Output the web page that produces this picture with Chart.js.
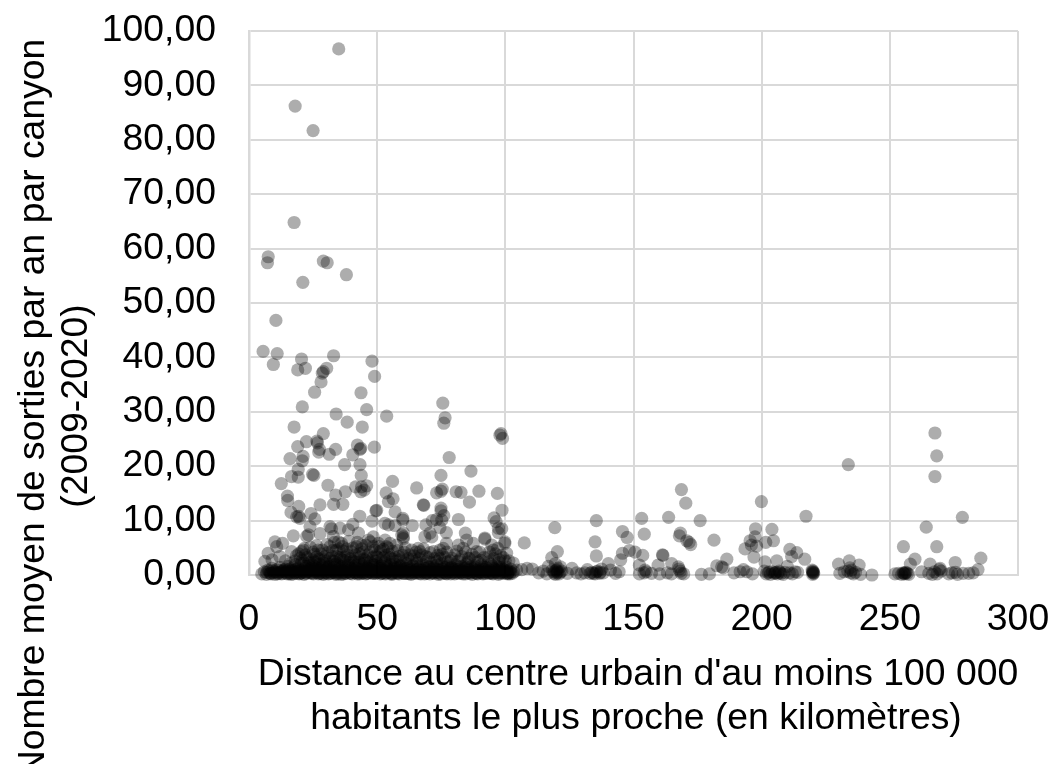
<!DOCTYPE html>
<html><head><meta charset="utf-8">
<style>html,body{margin:0;padding:0;background:#fff;overflow:hidden}#w{position:relative;width:1051px;height:764px}</style>
<script src="https://cdn.jsdelivr.net/npm/chart.js@4"></script>
</head><body><div id="w"><canvas id="c" width="1051" height="764"></canvas></div>
<script>
const xTitle = ["Distance au centre urbain d'au moins 100 000", "habitants le plus proche (en kilomètres)"];
const yTitle = ["Nombre moyen de sorties par an par canyon", "(2009-2020)"];
const xTicks = [0, 50, 100, 150, 200, 250, 300];
const yTicks = [0, 10, 20, 30, 40, 50, 60, 70, 80, 90, 100];

// [distance km, mean outings per year]
const highOutings = [[35,96.7],[18,86.2],[25,81.7],[17.6,64.8],[7.5,58.5],[7.2,57.4],[29,57.7],[30.5,57.4],[38,55.2],[21,53.8],[10.5,46.8],[5.5,41.1],[11,40.7],[9.5,38.7],[20.5,39.7],[19,37.7],[22,38],[30.3,38],[29,37.4],[28.6,37.1],[33,40.3],[48,39.3],[49,36.5],[28.1,35.5],[25.6,33.6],[43.7,33.5],[20.8,30.9],[45.9,30.4],[34,29.6],[53.7,29.2],[38.3,28.1],[44.2,27.2],[17.6,27.2],[29,26],[75.6,31.6],[76.5,28.9],[76,27.9],[98.3,26],[98.9,25.1],[97.9,25.7]];
const midOutings = [[26.5,24.6],[26.7,24.3],[22.4,24.5],[19,23.6],[42.3,23.9],[43.3,23.1],[43.6,23.3],[48.9,23.5],[27.2,22.6],[27.5,23.1],[33.8,23.1],[31.3,22.2],[40.5,22.1],[21.1,21.8],[16,21.4],[20.8,21],[43.3,20.3],[37.3,20.3],[19.2,19.4],[19.2,18],[16.6,18.1],[24.8,18.5],[25.3,18.3],[43.8,18.3],[12.6,16.8],[30.8,16.5],[41.6,16.2],[43.9,16.2],[45.9,16.4],[43.6,15.3],[44.9,15.6],[56,17.2],[74.9,18.3],[86.6,19.1],[78.1,21.6],[65.4,16],[75.4,15.8],[74.9,15.4],[73.2,15.1],[80.8,15.3],[82.7,15.2],[89.7,15.4],[96.9,15],[86,13.4],[68,12.9],[68.2,12.8],[98.7,11.9],[74.9,12.3],[74.9,11.8],[76,10.9],[95.6,10.5],[96.4,9.8],[81.7,10.2],[53.5,15.1],[56.2,14],[54.4,13.5],[37.6,15.3],[33.8,14.7],[33,13],[27.7,12.9],[36.6,13],[15,14.5],[15.1,13.7],[19.4,12.6],[16.4,11.5],[49.5,11.8],[49.8,11.9],[43.2,10.8],[19.4,10.8],[19.9,10.4],[18.6,10.7],[24.2,11.3],[25.7,10.3],[57,11.6],[48,9.9],[60,10.4],[60,10.1]];
const lowOutings = [[63.7,9.1],[69,9.2],[71.5,10],[73.2,10.2],[75.2,10.1],[40.5,9.3],[31.6,8.9],[32.2,8.5],[53,9.5],[54.4,9.2],[57,9.1],[74.5,8.7],[77,7.8],[84.4,7.7],[97.3,8.6],[98.6,8.5],[97.3,7.8],[92,6.8],[99.8,6.1],[60.2,7.7],[60.2,7],[70.6,7.7],[68.6,7],[71.3,7],[10.1,6.1],[10.8,5.2],[13.1,5.8],[7.5,4],[17.3,7.2],[16.6,4.3],[6.2,2.5],[23.2,7.4],[23.8,8.9],[22.5,7.1],[27.7,7.6],[32.9,7.1],[35.5,8.6],[38.8,8.3],[42.7,7.7],[36.1,5.8],[34.9,6.1],[46.6,6.4],[48.5,7],[50.5,5.8],[53.1,6.4],[55,5.8],[20.5,4.3],[21.2,4.6],[27,4.6],[31.6,5.2],[42,5.2],[43.9,5.5],[48.5,5.2],[53.7,5.2],[57.6,5.5],[59.6,7.4],[60.2,6.7],[63.5,4.6],[66.7,4.3],[67.4,3.7],[66,4.9],[74.5,4.6],[77,5.8],[75.8,4.9],[81.7,5.5],[83.6,4.9],[84.9,6.4],[87.5,5.8],[88.8,4.3],[92,6.6],[94.7,5.5],[95.3,4.6],[99.8,5.8],[100.5,4],[103.1,2.2],[9,2.8],[12,3.4],[14.2,2.6],[18.5,3.5],[20,3.1],[22,3.7],[23.5,2.9],[25,4.2],[26.4,3.3],[28,3.9],[29.4,2.8],[30.6,4.1],[32.5,3.4],[34,4.5],[35.4,3.2],[36.8,4.4],[38.4,3.7],[39.8,4.3],[41,3],[43,3.9],[44.6,4.2],[46,3.1],[47.3,4.2],[49.6,3.5],[51.3,4.4],[52.6,3.2],[54.6,3.8],[56,2.9],[58.4,3.4],[60.5,4.2],[62,3],[64.4,3.5],[69,3.4],[70.6,4.1],[72.4,3],[73.6,3.6],[76.4,3.2],[78.6,2.6],[80.2,3.7],[82.2,2.8],[85.6,3.1],[87,3.8],[90.4,2.7],[93.2,3.3],[96.2,3.9],[97.6,2.8],[99.2,3.2],[101.4,2.6]];
const lowCrowd = [[16,2.1],[18,2.6],[19.4,3.9],[20.8,2.7],[21.6,4.9],[22.7,3.2],[23.9,5.1],[24.8,2.8],[25.6,3.8],[26.3,5.4],[27.4,2.9],[28.6,4.6],[29.6,3.4],[30.4,5.6],[31.5,3],[32.6,4.5],[33.3,6],[34.2,3.4],[35,4.8],[35.8,2.9],[36.5,5.2],[37.4,3.3],[38.1,4.8],[39,6.2],[39.6,3],[40.6,5],[41.5,3.7],[42.3,6],[43.2,3.2],[44,4.8],[44.9,2.9],[45.6,5.5],[46.5,3.7],[47.4,6.1],[48.3,3.2],[49.1,4.6],[50,3.3],[50.8,5.2],[51.6,3],[52.4,4.7],[53.3,3.6],[54.2,5],[55,3.2],[55.9,4.4],[57,3.2],[58.1,4.5],[59,2.8],[60,3.6],[61,5],[62.7,3.7],[63.6,2.9],[65.2,4.2],[66.4,3],[68.1,4.8],[70,3.2],[72,4.3],[74.4,3],[75.3,3.8],[77.2,4.2],[79,3.1],[81,4.4],[83,3.4],[84.5,4.2],[86,3],[88.2,3.2],[90,4.2],[91.6,3.2],[93.8,4.2],[95.5,3],[97,4.9],[98.2,3.6],[100,2.6],[21.4,2.2],[25.4,2.4],[29.1,2.2],[33.4,2.5],[37.2,2.6],[41.4,2.4],[45.2,2.7],[49.3,2.5],[53.2,2.6],[57.3,2.5],[61.2,2.7],[65.3,2.6],[69.2,2.5],[73.3,2.5],[77.4,2.4],[81.3,2.5],[85.4,2.4],[89.3,2.4],[93.4,2.4],[97.4,2.3]];
const baseOutings = [[5,0.2],[6,0.6],[6.8,0.1],[7.4,0.9],[8.2,0.3],[8.9,1.2],[9.5,0.4],[10.1,0.1],[10.8,1],[11.4,0.5],[12,1.4],[12.7,0.2],[13.3,0.7],[14,1.1],[14.6,0.3],[15.1,1.6],[15.8,0.6],[16.4,0.1],[17,1.3],[17.5,0.8],[18.1,1.9],[18.7,0.3],[19.2,1.2],[19.9,0.5],[20.4,2.1],[21,0.9],[21.5,0.1],[22.1,1.6],[22.6,0.6],[23.2,2.3],[23.8,1.1],[24.3,0.3],[24.9,1.8],[25.4,0.7],[26,2.4],[26.5,1.3],[27.1,0.2],[27.6,2],[28.2,0.9],[28.8,1.5],[29.3,0.4],[29.9,2.5],[30.4,1.1],[31,0.2],[31.5,1.9],[32.1,0.8],[32.7,2.6],[33.2,1.4],[33.8,0.3],[34.3,2.2],[34.9,1],[35.5,1.7],[36,0.1],[36.6,2.7],[37.1,0.6],[37.7,1.5],[38.3,0.9],[38.8,2.3],[39.4,0.3],[39.9,1.2],[40.5,2.6],[41.1,0.7],[41.6,1.8],[42.2,0.2],[42.8,2.4],[43.3,1],[43.9,0.5],[44.4,1.6],[45,2.2],[45.6,0.2],[46.1,1.3],[46.7,0.7],[47.2,2.4],[47.8,1],[48.4,0.3],[48.9,1.8],[49.5,0.6],[50,2.1],[50.6,1.2],[51.2,0.2],[51.7,1.7],[52.3,0.8],[52.9,2.3],[53.4,0.4],[54,1.4],[54.6,0.9],[55.1,1.9],[55.7,0.1],[56.2,1.1],[56.8,2],[57.4,0.5],[58,1.4],[58.5,0.2],[59.1,1.8],[59.7,0.8],[60.3,1.2],[60.9,0.3],[61.5,2.1],[62,0.7],[62.6,1.3],[63.2,0.1],[63.8,1.7],[64.4,0.6],[65,1],[65.6,2.2],[66.2,0.3],[66.7,1.4],[67.3,0.8],[67.9,1.9],[68.5,0.2],[69.1,1.1],[69.7,0.5],[70.3,1.6],[70.9,2.3],[71.5,0.4],[72.1,1.2],[72.7,0.7],[73.3,1.8],[73.9,0.1],[74.5,1],[75.1,2.1],[75.7,0.6],[76.3,1.4],[76.9,0.3],[77.5,1.7],[78.1,0.9],[78.7,0.2],[79.3,1.3],[79.9,0.6],[80.5,1.9],[81.1,0.4],[81.7,1.1],[82.3,0.7],[82.9,1.6],[83.5,0.2],[84.1,1.2],[84.7,2],[85.3,0.5],[85.9,0.9],[86.5,1.5],[87.1,0.1],[87.7,0.8],[88.3,1.7],[88.9,0.4],[89.5,1.1],[90.1,0.6],[90.7,1.9],[91.3,0.2],[91.9,1],[92.5,1.4],[93.1,0.5],[93.7,0.8],[94.3,2],[94.9,0.3],[95.5,1.2],[96.1,0.7],[96.7,1.6],[97.3,0.1],[97.9,0.9],[98.5,1.3],[99.1,0.4],[99.7,0.8],[100.3,1.5],[100.9,0.2],[101.5,0.7],[102.1,1.1],[102.7,0.3],[103.3,0.6]];
const baseCrowd = [[7,0.5],[7.9,0.7],[8.6,0.2],[9.3,0.8],[10.4,0.6],[11.1,0.2],[11.7,0.9],[12.4,0.6],[13,0.3],[13.7,0.9],[14.3,0.5],[15,0.2],[15.5,1],[16.1,0.4],[16.8,0.7],[17.3,0.2],[17.9,0.5],[18.4,1.1],[19,0.7],[19.6,0.2],[20.1,0.9],[20.7,0.4],[21.3,0.7],[21.8,1.2],[22.4,0.3],[22.9,0.9],[23.5,0.5],[24,0.8],[24.6,1.3],[25.1,0.2],[25.7,1],[26.3,0.5],[26.8,0.8],[27.4,0.3],[27.9,1.2],[28.5,0.6],[29,0.1],[29.6,0.9],[30.1,0.5],[30.7,1.4],[31.3,0.6],[31.8,0.3],[32.4,1.1],[32.9,0.5],[33.5,0.8],[34,0.1],[34.6,0.6],[35.2,1.3],[35.8,0.4],[36.3,0.9],[36.9,0.2],[37.4,1],[38,0.4],[38.6,0.7],[39.1,1.5],[39.7,0.6],[40.2,0.2],[40.8,1],[41.4,0.4],[41.9,1.2],[42.5,0.6],[43.1,0.2],[43.6,0.8],[44.2,1.1],[44.7,0.4],[45.3,0.8],[45.9,1.3],[46.4,0.3],[47,1.1],[47.5,0.5],[48.1,0.8],[48.7,1.4],[49.2,0.3],[49.8,1],[50.3,0.5],[50.9,0.8],[51.5,1.2],[52,0.3],[52.6,0.9],[53.2,0.2],[53.7,0.7],[54.3,1.1],[54.9,0.4],[55.4,0.8],[56,0.3],[56.5,0.7],[57.1,1.2],[57.7,0.3],[58.2,0.8],[58.8,0.5],[59.4,1.1],[60,0.4],[60.6,0.7],[61.2,1.2],[61.8,0.3],[62.3,0.9],[62.9,0.5],[63.5,1],[64.1,0.3],[64.7,0.8],[65.3,0.4],[65.9,1.1],[66.5,0.6],[67,0.2],[67.6,0.9],[68.2,0.5],[68.8,1.2],[69.4,0.3],[70,0.8],[70.6,0.2],[71.2,1],[71.8,0.6],[72.4,0.3],[73,1.1],[73.6,0.5],[74.2,0.8],[74.8,0.2],[75.4,1.1],[76,0.4],[76.6,0.8],[77.2,0.2],[77.8,0.6],[78.4,1.2],[79,0.4],[79.6,1],[80.2,0.2],[80.8,0.7],[81.4,1],[82,0.3],[82.6,0.5],[83.2,1],[83.8,0.6],[84.4,0.2],[85,0.8],[85.6,1.1],[86.2,0.3],[86.8,0.6],[87.4,1.1],[88,0.4],[88.6,0.8],[89.2,0.2],[89.8,0.9],[90.4,0.4],[91,1.1],[91.6,0.6],[92.2,0.3],[92.8,0.8],[93.4,1.1],[94,0.4],[94.6,0.7],[95.2,0.2],[95.8,1],[96.4,0.4],[97,0.8],[97.6,1.1],[98.2,0.3],[98.8,0.7],[99.4,1],[100,0.3],[100.6,0.8],[101.2,0.4],[101.8,0.2]];
const baseCrowdTwo = [[8.4,0.4],[9.8,0.6],[11.3,0.3],[12.9,0.6],[14.5,0.7],[15.9,0.3],[16.6,0.9],[17.7,0.4],[18.9,0.6],[20,0.3],[20.9,0.6],[22,0.4],[23,0.7],[24.2,0.5],[25.3,0.4],[26.1,0.7],[27.2,0.5],[28.3,0.3],[29.2,0.7],[30.2,0.3],[31.1,0.7],[32,0.4],[33,0.7],[33.7,0.5],[34.8,0.3],[35.9,0.7],[36.7,0.5],[37.6,0.3],[38.5,0.6],[39.5,0.4],[40.4,0.7],[41.3,0.5],[42.4,0.4],[43.4,0.6],[44.1,0.3],[45.1,0.6],[46,0.4],[46.9,0.6],[47.9,0.4],[48.8,0.6],[49.7,0.4],[50.7,0.6],[51.6,0.4],[52.5,0.6],[53.5,0.4],[54.5,0.6],[55.5,0.3],[56.4,0.5],[57.3,0.7],[58.3,0.4],[59.3,0.6],[60.4,0.3],[61.4,0.6],[62.5,0.3],[63.6,0.6],[64.6,0.4],[65.7,0.6],[66.9,0.4],[68,0.6],[69.2,0.4],[70.4,0.6],[71.6,0.4],[72.9,0.6],[74,0.4],[75.3,0.6],[76.5,0.4],[77.7,0.5],[79,0.6],[80.3,0.4],[81.6,0.6],[82.8,0.4],[84,0.6],[85.2,0.4],[86.4,0.5],[87.6,0.6],[88.8,0.3],[90,0.6],[91.2,0.4],[92.4,0.6],[93.6,0.3],[94.8,0.5],[96,0.6],[97.2,0.4],[98.4,0.5],[99.6,0.6],[100.8,0.4],[102,0.5],[23.4,1.7],[25.8,1.5],[28.7,1.8],[31.2,1.6],[33.6,1.9],[36.2,1.6],[38.9,1.8],[41.2,1.5],[44,1.9],[46.5,1.6],[48.6,1.9],[51,1.5],[53.8,1.7],[56.5,1.5],[59,1.6],[61.7,1.5],[66,1.6],[70.1,1.4],[72,1.5],[75.6,1.5],[78.9,1.4],[81.9,1.5],[84.9,1.4],[88.1,1.4],[91.5,1.5],[95,1.6],[97.5,1.5]];
const farMiddle = [[107.4,5.9],[119.3,8.7],[120.3,4.3],[118.1,3.2],[119.5,2.1],[121.5,1.5],[116.8,1.6],[120,1],[120.4,0.6],[119,0.3],[121,0.2],[118.3,0.9],[122,0.7],[119.6,0.1],[120.1,0.4],[119.8,0.8],[120.6,1.2],[118.9,0.6],[121.4,0.5],[104.4,0.9],[106.4,1],[108.5,1.2],[110.5,1.1],[113,0.4],[114.8,0.7],[116.2,0.2],[124.2,0.3],[126,1.2],[127.8,0.4],[129.5,0.2],[131,0.4],[132,1],[133,0.3],[133.8,0.5],[134.4,0.3],[135,0.2],[135.5,0.6],[136,0.7],[136.8,0.3],[137.5,1.1],[137,0.5],[138.2,0.4],[140.2,2.1],[141,0.9],[143,0.3],[144.4,0.6],[135.5,10],[135,6.1],[135.5,3.5],[145.7,8],[147.5,6.9],[145.7,4],[145,2.8],[148.4,4.5],[150.6,4.2],[153.6,3.6],[152.3,1.8],[153.2,10.4],[154.2,7.5],[152.3,0.2],[154.1,0.4],[155,0.6],[154.5,0.9],[157,0.3],[159.6,1.8],[161.3,3.7],[161.5,3.6],[160.2,0.2],[163.2,0.4],[164.8,0.2],[164.9,2.1],[167.5,1.5],[168.2,0.7],[168.6,0.3],[167.8,1.1],[169.6,0.2],[163.7,10.6],[168.7,15.7],[170.4,13.2],[176,10],[168.3,7.7],[167.9,7.2],[170.8,6.3],[172.3,5.6],[171.7,6],[181.4,6.4],[186.4,2.9],[182.5,1.7],[184.4,1.5],[185,1.3],[176.5,0.1],[179.6,0.2],[189.2,0.4],[191.6,0.6],[192.9,1],[194.2,0.6],[196.4,0.2],[199.9,13.5],[197.6,8.5],[204,8.4],[195.5,6.3],[196,5.5],[197.4,7],[198,5.3],[193.5,4.8],[197,3.3],[201.6,6],[204.6,6.3],[201.3,2.4],[205.9,2.6],[201,0.7],[201.8,0.2],[202.6,0.4],[203.4,0.1],[204.2,0.6],[204.9,0.3],[205.6,0.5],[206.2,0.2],[206.8,0.7],[207.5,0.3],[208.4,0.1],[209,0.5],[203,0.6],[205.3,0.4],[207,0.5],[210,1.6],[210.8,0.4],[212,0.2],[213,0.6],[214,0.5],[211,4.7],[213.7,4.1],[211.7,3.4],[216.8,2.9],[217.3,10.8],[219.7,0.9],[220,0.7],[220.3,0.3],[219.9,0.1],[220.2,0.5],[220,0.4],[219.8,0.6]];
const farEnd = [[233.8,20.3],[230,2],[234.2,2.6],[238,1.8],[234.4,1.3],[235,0.9],[233.6,0.7],[230.5,0.3],[232.2,0.6],[235.8,0.2],[236.6,0.5],[234.7,0.4],[238.6,0.1],[243,0],[255.3,5.2],[264.2,8.8],[268.3,5.2],[267.6,26.1],[268.3,21.9],[267.6,18.1],[278.3,10.6],[285.5,3.1],[259.8,2.9],[258,2],[265.7,2],[275.5,2.3],[269.6,1.2],[269.3,1],[262.4,0.6],[252,0.2],[253.4,0.3],[254.6,0.1],[255.2,0.4],[255.8,0.2],[256.3,0.5],[256.8,0.3],[257.4,0.1],[255.5,0.3],[256,0.4],[265.2,0.3],[266.6,0.1],[267.4,0.6],[268.4,0.2],[270,0.7],[273,0.2],[274.2,0.4],[275.6,0.5],[276.4,0.1],[278.6,0.3],[280.8,0.3],[282.5,0.4],[284.4,1]];

const allPoints = [...highOutings, ...midOutings, ...lowOutings, ...lowCrowd, ...baseOutings, ...baseCrowd, ...baseCrowdTwo, ...farMiddle, ...farEnd]
  .map(([x, y]) => ({ x, y }));

const FONT = '"Liberation Sans", Arial, sans-serif';
const TICK_SIZE = 37.33;
const titles = {
  id: 'titles',
  afterDraw(chart) {
    const c = chart.ctx;
    c.save();
    c.fillStyle = '#000';
    c.font = '37.33px ' + FONT;
    c.textAlign = 'center';
    c.textBaseline = 'alphabetic';
    c.fillText(xTitle[0], 638, 685);
    c.fillText(xTitle[1], 636, 729);
    c.translate(44, 408);
    c.rotate(-Math.PI / 2);
    c.fillText(yTitle[0], 0, 0);
    c.fillText(yTitle[1], 2, 43);
    c.restore();
  }
};
const noEdgePadding = s => {
  s.paddingTop = 0; s.paddingBottom = 0; s.paddingLeft = 0; s.paddingRight = 0;
};

new Chart(document.getElementById('c'), {
  type: 'scatter',
  data: { datasets: [{ data: allPoints, backgroundColor: 'rgba(0,0,0,0.32)', borderWidth: 0, pointRadius: 6.6, pointHoverRadius: 6.6, clip: false }] },
  options: {
    responsive: false, animation: false, events: [],
    layout: { padding: { top: 31, right: 33, left: 0, bottom: 0 } },
    plugins: { legend: { display: false }, tooltip: { enabled: false } },
    scales: {
      x: {
        type: 'linear', min: 0, max: 300,
        afterBuildTicks: s => { s.ticks = xTicks.map(value => ({ value })); },
        afterFit: s => { s.height = 189; noEdgePadding(s); },
        grid: { color: '#d9d9d9', lineWidth: 2, drawTicks: false },
        border: { color: '#d9d9d9', width: 2 },
        ticks: { color: '#000', font: { family: FONT, size: TICK_SIZE }, padding: 22, maxRotation: 0, autoSkip: false }
      },
      y: {
        type: 'linear', min: 0, max: 100,
        afterBuildTicks: s => { s.ticks = yTicks.map(value => ({ value })); },
        afterFit: s => { s.width = 249; noEdgePadding(s); },
        grid: { color: '#d9d9d9', lineWidth: 2, drawTicks: false },
        border: { color: '#d9d9d9', width: 2.5 },
        ticks: { color: '#000', font: { family: FONT, size: TICK_SIZE }, padding: 33, autoSkip: false,
          callback: v => v.toFixed(2).replace('.', ',') }
      }
    }
  },
  plugins: [titles]
});
</script></body></html>
